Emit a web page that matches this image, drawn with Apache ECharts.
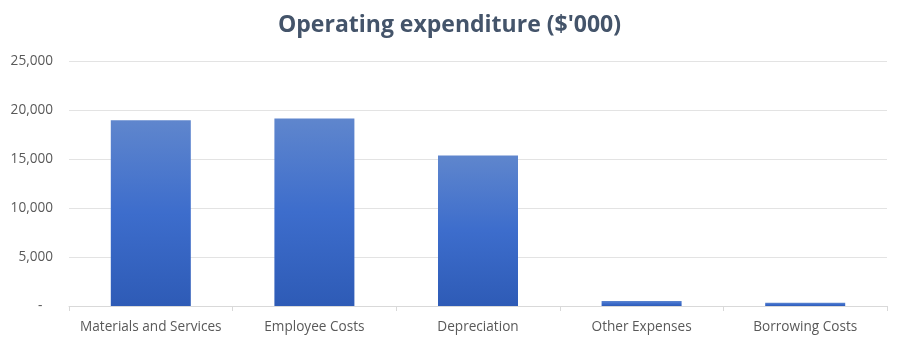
<!DOCTYPE html>
<html>
<head>
<meta charset="utf-8">
<script src="https://cdn.jsdelivr.net/npm/echarts@6/dist/echarts.min.js"></script>
<style>
html,body{margin:0;padding:0;background:#fff;}
#c{width:899px;height:341px;}
</style>
</head>
<body>
<div id="c"></div>
<script>
const titleText = "Operating expenditure ($'000)";
const categories = ["Materials and Services", "Employee Costs", "Depreciation", "Other Expenses", "Borrowing Costs"];
const values = [18950, 19120, 15350, 520, 330];
const yTicks = [0, 5000, 10000, 15000, 20000, 25000];

const chart = echarts.init(document.getElementById('c'), null, {renderer: 'canvas'});
chart.setOption({
  animation: false,
  backgroundColor: '#ffffff',
  title: {
    text: titleText,
    left: 'center',
    top: 9,
    textStyle: {fontFamily: 'Open Sans', fontWeight: 'bold', fontSize: 23, color: '#44546A'}
  },
  grid: {left: 69, right: 12, top: 61, bottom: 35, containLabel: false},
  xAxis: {
    type: 'category',
    data: categories,
    axisLine: {show: true, lineStyle: {color: '#D9D9D9', width: 1}},
    axisTick: {show: true, interval: 0, length: 5, lineStyle: {color: '#D9D9D9'}},
    axisLabel: {interval: 0, color: '#595959', fontFamily: 'Open Sans', fontSize: 13.6, margin: 14}
  },
  yAxis: {
    type: 'value',
    min: yTicks[0],
    max: yTicks[yTicks.length - 1],
    interval: 5000,
    axisLine: {show: false},
    axisTick: {show: false},
    splitLine: {lineStyle: {color: '#E3E3E3', width: 1}},
    axisLabel: {
      color: '#595959', fontFamily: 'Open Sans', fontSize: 13.6, margin: 16,
      formatter: function (v) { return v === 0 ? '-   ' : v.toLocaleString('en-US'); }
    }
  },
  series: [{
    type: 'bar',
    data: values,
    barWidth: 80,
    itemStyle: {
      color: new echarts.graphic.LinearGradient(0, 0, 0, 1, [
        {offset: 0, color: '#5F86CD'},
        {offset: 0.5, color: '#3D6DCC'},
        {offset: 1, color: '#2E5BB6'}
      ])
    }
  }]
});
</script>
</body>
</html>
